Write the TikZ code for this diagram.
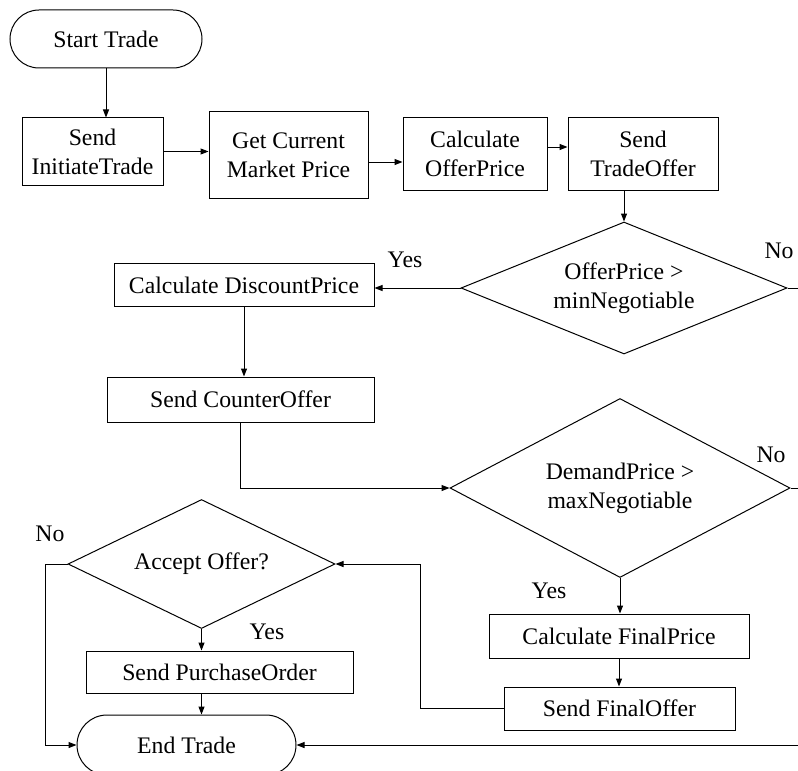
\documentclass[tikz,border=0pt]{standalone}
\usepackage{fontspec}
\setmainfont{Liberation Serif}
\usetikzlibrary{arrows.meta,shapes.geometric,shapes.misc}

\begin{document}
\begin{tikzpicture}[x=0.75pt,y=-0.75pt,
  every node/.style={font=\fontsize{17.8pt}{21.75pt}\selectfont},
  flow/.style={draw, line width=0.75pt, inner sep=0pt, align=center},
  stepbox/.style={flow, rectangle},
  terminal/.style={flow, rounded rectangle},
  decision/.style={flow, diamond},
  link/.style={draw, line width=0.75pt},
  arr/.style={link, -{Triangle[length=6pt,width=4.5pt]}},
  lbl/.style={anchor=base, inner sep=0pt}
]
\path[use as bounding box] (0,0) rectangle (798,770);
\clip (0,0) rectangle (798,770);

% process nodes
\node[terminal, minimum width=144pt, minimum height=43.5pt] (start) at (106,39) {Start Trade};
\node[stepbox, minimum width=105.75pt, minimum height=50.25pt] (init) at (92.5,151.5) {Send\\InitiateTrade};
\node[stepbox, minimum width=119.25pt, minimum height=64.5pt] (market) at (288.5,155) {Get Current\\Market Price};
\node[stepbox, minimum width=108pt, minimum height=54pt] (offer) at (475,154) {Calculate\\OfferPrice};
\node[stepbox, minimum width=112.5pt, minimum height=54pt] (tradeoffer) at (643,154) {Send\\TradeOffer};
\node[decision, aspect=2.47, minimum width=244.5pt, minimum height=99pt] (d1) at (624,288) {OfferPrice >\\minNegotiable};
\node[stepbox, minimum width=195pt, minimum height=32.25pt] (discount) at (244,285) {Calculate DiscountPrice};
\node[stepbox, minimum width=200.25pt, minimum height=33.75pt] (counter) at (240.5,399.5) {Send CounterOffer};
\node[decision, aspect=1.9, minimum width=255pt, minimum height=134.25pt] (d2) at (620,488) {DemandPrice >\\maxNegotiable};
\node[stepbox, minimum width=195pt, minimum height=33pt] (finalprice) at (619,636) {Calculate FinalPrice};
\node[stepbox, minimum width=173.25pt, minimum height=32.25pt] (finaloffer) at (619.5,708.5) {Send FinalOffer};
\node[decision, aspect=2.07, minimum width=200.25pt, minimum height=96.75pt] (accept) at (201.5,564) {Accept Offer?};
\node[stepbox, minimum width=200.25pt, minimum height=31.5pt] (purchase) at (219.5,672) {Send PurchaseOrder};
\node[terminal, minimum width=164.25pt, minimum height=45pt] (endtrade) at (186.5,745) {End Trade};

% routing points
\coordinate (loopx) at (420,0);
\coordinate (leftx) at (45,0);
\coordinate (offedge) at (812,0);
\coordinate (rightin) at (812,745);

% connectors
\draw[arr] (start.south) -- (start.south |- init.north);
\draw[arr] (init.east) -- (init.east -| market.west);
\draw[arr] ([yshift=-5.25pt]market.east) -- ([yshift=-5.25pt]market.east -| offer.west);
\draw[arr] ([yshift=5.25pt]offer.east) -- ([yshift=5.25pt]offer.east -| tradeoffer.west);
\draw[arr] (d1.north |- tradeoffer.south) -- (d1.north);
\draw[arr] (d1.west) -- (d1.west -| discount.east);
\draw[link] (d1.east) -- (d1.east -| offedge);
\draw[arr] (discount.south) -- (discount.south |- counter.north);
\draw[arr] (counter.south) |- (d2.west);
\draw[link] (d2.east) -- (d2.east -| offedge);
\draw[arr] (d2.south) -- (d2.south |- finalprice.north);
\draw[arr] (finalprice.south) -- (finalprice.south |- finaloffer.north);
\draw[arr] (finaloffer.west) -- (finaloffer.west -| loopx) |- (accept.east);
\draw[arr] (accept.south) -- (accept.south |- purchase.north);
\draw[arr] (accept.south |- purchase.south) -- (accept.south |- endtrade.north);
\draw[arr] (accept.west) -- (accept.west -| leftx) |- (endtrade.west);
\draw[arr] (rightin) -- (endtrade.east);

% branch labels
\node[lbl] (yes1) at (405,267) {Yes};
\node[lbl] (no1) at (779,258) {No};
\node[lbl] (no2) at (771,462) {No};
\node[lbl] (yes2) at (549,598) {Yes};
\node[lbl] (no3) at (50,541) {No};
\node[lbl] (yes3) at (267,639) {Yes};
\end{tikzpicture}
\end{document}
